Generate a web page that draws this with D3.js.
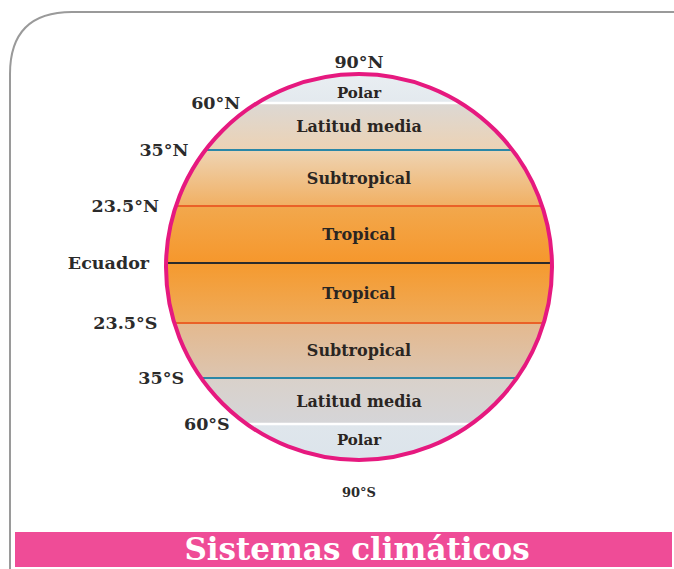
<!DOCTYPE html>
<html>
<head>
<meta charset="utf-8">
<script src="https://cdn.jsdelivr.net/npm/d3@7"></script>
<style>
  body { margin: 0; background: #fff; }
  svg { display: block; }
  text { font-family: "DejaVu Serif", "Liberation Serif", serif; font-weight: bold; }
</style>
</head>
<body>
<div id="chart"></div>
<script>
// latitudes of the boundaries, top to bottom
const latitudes = [90, 60, 35, 23.5, 0, -23.5, -35, -60, -90];
const latLabels = ["90°N", "60°N", "35°N", "23.5°N", "Ecuador", "23.5°S", "35°S", "60°S", "90°S"];
// climate zones between consecutive boundaries
const zones = ["Polar", "Latitud media", "Subtropical", "Tropical", "Tropical", "Subtropical", "Latitud media", "Polar"];
const title = "Sistemas climáticos";

const svgWidth = 674;
const svgHeight = 569;
const cx = 359, cy = 267, r = 193;

const svg = d3.select("#chart")
    .append("svg")
    .attr("width", svgWidth)
    .attr("height", svgHeight);

// vertical position of each latitude (the drawing is not to scale)
const yScale = d3.scaleLinear()
    .domain(latitudes)
    .range([cy - r, 103, 150, 206, 263, 323, 378, 424, cy + r]);

// band colours, top and bottom of each band
const bandColors = [
    ["#e9eef2", "#e3e9ee"],
    ["#dcd8d4", "#ecd2b4"],
    ["#eed4b4", "#f1b063"],
    ["#f2a84d", "#f6972c"],
    ["#f59a2f", "#efab5a"],
    ["#e4b98f", "#dcc5b0"],
    ["#d9d1ca", "#d5d5d8"],
    ["#dfe6ec", "#dce4eb"]
];

const lineColor = d3.scaleOrdinal()
    .domain([60, 35, 23.5, 0])
    .range(["#ffffff", "#2a87a7", "#ea6128", "#2b2b2b"]);

// frame
svg.append("path")
    .attr("d", `M${svgWidth},12 L72,12 Q10,12 10,74 L10,${svgHeight}`)
    .attr("fill", "none")
    .attr("stroke", "#9a9a9a")
    .attr("stroke-width", 2);

const defs = svg.append("defs");

defs.append("clipPath")
    .attr("id", "globe")
    .append("circle")
    .attr("cx", cx)
    .attr("cy", cy)
    .attr("r", r);

const bands = zones.map((z, i) => ({
    zone: z,
    top: latitudes[i],
    bottom: latitudes[i + 1],
    colors: bandColors[i]
}));

bands.forEach((b, i) => {
    const g = defs.append("linearGradient")
        .attr("id", "band" + i)
        .attr("x1", 0).attr("y1", 0)
        .attr("x2", 0).attr("y2", 1);
    g.append("stop").attr("offset", "0%").attr("stop-color", b.colors[0]);
    g.append("stop").attr("offset", "100%").attr("stop-color", b.colors[1]);
});

const globe = svg.append("g")
    .attr("clip-path", "url(#globe)");

globe.selectAll(".band")
    .data(bands)
    .enter()
    .append("rect")
    .attr("class", "band")
    .attr("x", cx - r)
    .attr("width", 2 * r)
    .attr("y", d => yScale(d.top))
    .attr("height", d => yScale(d.bottom) - yScale(d.top))
    .attr("fill", (d, i) => `url(#band${i})`);

// boundary lines (not the poles)
const inner = latitudes.filter(d => Math.abs(d) < 90);

globe.selectAll(".lat")
    .data(inner)
    .enter()
    .append("line")
    .attr("class", "lat")
    .attr("x1", cx - r)
    .attr("x2", cx + r)
    .attr("y1", d => yScale(d))
    .attr("y2", d => yScale(d))
    .attr("stroke", d => lineColor(Math.abs(d)))
    .attr("stroke-width", d => Math.abs(d) === 60 ? 2.5 : 2);

svg.append("circle")
    .attr("cx", cx)
    .attr("cy", cy)
    .attr("r", r)
    .attr("fill", "none")
    .attr("stroke", "#e6197f")
    .attr("stroke-width", 4);

// zone names
svg.selectAll(".zone")
    .data(bands)
    .enter()
    .append("text")
    .attr("class", "zone")
    .attr("x", cx)
    .attr("y", d => (yScale(d.top) + yScale(d.bottom)) / 2)
    .attr("dy", d => Math.abs(d.top) === 90 ? "0.6em" : d.zone === "Polar" ? "0.2em" : "0.35em")
    .attr("text-anchor", "middle")
    .style("font-size", d => d.zone === "Polar" ? "15px" : "16px")
    .style("fill", "#2a2522")
    .text(d => d.zone);

// latitude labels
const labels = latitudes.map((d, i) => ({ lat: d, label: latLabels[i] }));

svg.selectAll(".latlabel")
    .data(labels)
    .enter()
    .append("text")
    .attr("class", "latlabel")
    .attr("x", d => {
        if (Math.abs(d.lat) === 90) return cx;
        const dy = yScale(d.lat) - cy;
        return cx - Math.sqrt(r * r - dy * dy) - 17;
    })
    .attr("y", d => d.lat === 90 ? yScale(d.lat) - 12 : d.lat === -90 ? yScale(d.lat) + 32 : yScale(d.lat))
    .attr("dy", "0.35em")
    .attr("text-anchor", d => Math.abs(d.lat) === 90 ? "middle" : "end")
    .style("font-size", d => d.lat === -90 ? "13px" : "17.5px")
    .style("fill", "#2b2b2b")
    .text(d => d.label);

// title bar
svg.append("rect")
    .attr("x", 15)
    .attr("y", 532)
    .attr("width", 657)
    .attr("height", 35)
    .attr("fill", "#ef4c97");

svg.append("text")
    .attr("x", 357)
    .attr("y", 560)
    .attr("text-anchor", "middle")
    .style("font-size", "31px")
    .style("fill", "#ffffff")
    .text(title);
</script>
</body>
</html>
